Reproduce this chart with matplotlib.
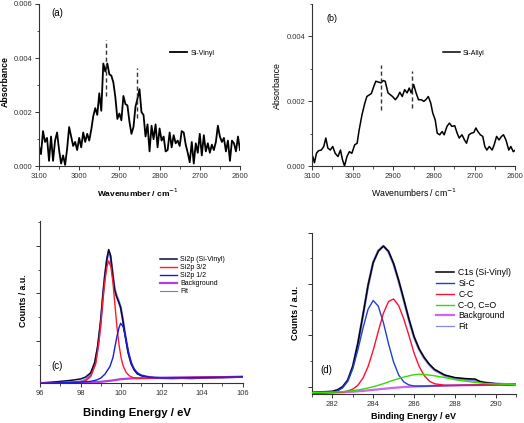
import numpy as np
import matplotlib.pyplot as plt
from matplotlib.ticker import MultipleLocator

plt.rcParams['font.family'] = ['Liberation Sans', 'DejaVu Sans']

# (a) FTIR, Si-Vinyl  (absorbance in 1e-3 units, 5 cm-1 steps from 3100 to 2600)
wn_a = np.arange(3100, 2595, -5)
abs_vinyl = [0.75, 0.45, 1.30, 0.90, 1.05, 0.20, 1.10, 0.20, 0.95, 1.25,
             0.60, 0.10, 0.40, 0.05, 0.65, 1.45, 1.10, 0.75, 0.90, 0.60,
             1.05, 0.70, 1.25, 0.90, 1.20, 0.95, 1.35, 1.85, 2.15, 1.90,
             2.70, 2.05, 3.80, 3.50, 3.80, 3.40, 3.35, 3.10, 2.55, 1.75,
             1.95, 1.70, 2.60, 2.30, 2.25, 1.65, 1.20, 1.45, 2.20, 2.50,
             2.85, 2.00, 1.90, 1.10, 1.55, 0.55, 1.50, 1.00, 1.55, 0.70,
             1.40, 0.95, 1.10, 0.55, 0.60, 1.25, 0.70, 1.15, 0.85, 0.95,
             0.75, 1.30, 1.25, 0.80, 0.50, 0.15, 0.90, 0.10, 0.85, 0.50,
             1.20, 0.40, 1.15, 0.55, 0.85, 0.50, 0.80, 0.60, 0.90, 1.50,
             1.10, 0.90, 1.05, 0.55, 0.95, 0.20, 0.95, 0.85, 0.55, 1.10,
             0.60]
peaks_a = [2933, 2857]
peaks_a_lo = [2.58, 1.78]
peaks_a_hi = [4.68, 3.63]

# (b) FTIR, Si-Allyl
wn_b = [3098, 3094, 3089, 3084, 3077, 3071, 3066, 3061, 3055, 3049,
        3043, 3036, 3030, 3025, 3020, 3014, 3008, 3002, 2995, 2989,
        2984, 2977, 2970, 2965, 2959, 2954, 2948, 2943, 2936, 2930,
        2925, 2920, 2913, 2907, 2902, 2895, 2889, 2884, 2878, 2872,
        2866, 2861, 2856, 2850, 2844, 2838, 2831, 2825, 2820, 2814,
        2808, 2803, 2797, 2792, 2786, 2780, 2775, 2768, 2762, 2756,
        2749, 2743, 2738, 2731, 2725, 2720, 2714, 2708, 2702, 2697,
        2692, 2686, 2680, 2675, 2670, 2664, 2657, 2652, 2646, 2640,
        2634, 2629, 2623, 2616, 2611, 2605, 2600]
abs_allyl = [0.30, 0.11, 0.40, 0.48, 0.50, 0.61, 0.87, 0.56, 0.50, 0.61,
             0.40, 0.30, 0.50, 0.20, 0.01, 0.30, 0.45, 0.40, 0.66, 0.71,
             1.12, 1.59, 1.95, 2.15, 2.20, 2.24, 2.46, 2.62, 2.59, 2.57,
             2.64, 2.62, 2.26, 2.20, 2.15, 2.05, 2.15, 2.28, 2.15, 2.36,
             2.26, 2.41, 2.26, 2.52, 2.26, 2.05, 2.05, 2.00, 2.05, 2.15,
             1.95, 1.64, 1.43, 1.02, 0.97, 1.07, 0.97, 1.23, 1.33, 1.23,
             1.25, 1.02, 0.87, 0.97, 0.81, 0.71, 0.97, 1.02, 1.04, 1.18,
             1.07, 0.97, 0.92, 0.61, 0.50, 0.61, 0.50, 0.66, 0.92, 0.81,
             0.92, 0.97, 0.81, 0.50, 0.61, 0.45, 0.50]
peaks_b = [2930, 2853]
peaks_b_lo = [1.74, 1.79]
peaks_b_hi = [3.13, 2.93]

# (c) XPS Si2p
si_e = [96, 96.5, 97, 97.5, 98, 98.25, 98.5, 98.7, 98.85, 99.0, 99.1, 99.2, 99.3,
        99.39, 99.48, 99.58, 99.68, 99.78, 99.88, 99.98, 100.1, 100.2, 100.35,
        100.5, 100.65, 100.8, 101.0, 101.4, 102, 102.5, 103, 103.5, 104, 104.5,
        105, 105.5, 106]
si_data = [0.115, 0.13, 0.15, 0.17, 0.20, 0.24, 0.33, 0.55, 0.90, 1.45, 1.95, 2.38,
           2.72, 2.92, 2.80, 2.42, 2.08, 1.93, 1.82, 1.70, 1.40, 1.12, 0.75, 0.52,
           0.39, 0.31, 0.27, 0.235, 0.215, 0.21, 0.215, 0.21, 0.22, 0.225, 0.23,
           0.235, 0.245]
si_fit = [0.115, 0.118, 0.12, 0.125, 0.145, 0.18, 0.28, 0.50, 0.85, 1.40, 1.92, 2.36,
          2.70, 2.88, 2.78, 2.44, 2.10, 1.95, 1.84, 1.71, 1.42, 1.14, 0.77, 0.53,
          0.40, 0.32, 0.275, 0.24, 0.225, 0.227, 0.23, 0.232, 0.235, 0.237, 0.24,
          0.242, 0.245]
si32_e = [96, 97, 98, 98.25, 98.5, 98.75, 98.9, 99.0, 99.1, 99.2, 99.3, 99.39, 99.5,
          99.6, 99.7, 99.8, 99.9, 100.0, 100.1, 100.25, 100.4, 100.6, 101, 102, 104, 106]
si32 = [0.113, 0.12, 0.13, 0.16, 0.25, 0.52, 0.95, 1.35, 1.85, 2.25, 2.55, 2.68, 2.55,
        2.22, 1.75, 1.28, 0.92, 0.65, 0.48, 0.34, 0.27, 0.225, 0.215, 0.225, 0.235, 0.245]
si12_e = [96, 97, 98, 98.5, 98.8, 99.0, 99.2, 99.45, 99.6, 99.7, 99.8, 99.9, 99.98,
          100.1, 100.2, 100.3, 100.4, 100.5, 100.6, 100.75, 100.9, 101.1, 101.4,
          101.9, 103, 104.5, 106]
si12 = [0.113, 0.12, 0.135, 0.15, 0.18, 0.22, 0.30, 0.46, 0.65, 0.88, 1.10, 1.28, 1.37,
        1.30, 1.12, 0.90, 0.70, 0.55, 0.44, 0.35, 0.30, 0.26, 0.235, 0.22, 0.225,
        0.235, 0.245]
si_bg_e = [96, 97, 98, 98.5, 99, 99.5, 100, 100.5, 101, 102, 103, 104, 105, 106]
si_bg = [0.113, 0.118, 0.125, 0.13, 0.141, 0.165, 0.197, 0.212, 0.218, 0.222, 0.226,
         0.232, 0.238, 0.246]

# (d) XPS C1s
c_e = [281, 281.5, 282, 282.25, 282.5, 282.75, 283, 283.25, 283.5, 283.75, 284,
       284.25, 284.5, 284.75, 285, 285.25, 285.5, 285.75, 286, 286.25, 286.5,
       286.75, 287, 287.5, 288, 288.25, 288.5, 288.75, 289, 289.25, 289.5, 290,
       290.25, 290.5, 291]
c_data = [0.89, 0.90, 0.91, 0.94, 1.00, 1.13, 1.40, 1.85, 2.40, 2.98, 3.42, 3.64,
          3.74, 3.64, 3.40, 3.07, 2.70, 2.32, 1.98, 1.74, 1.57, 1.44, 1.34, 1.23,
          1.18, 1.17, 1.16, 1.155, 1.15, 1.10, 1.08, 1.06, 1.05, 1.03, 1.05]
c_fit = [0.885, 0.895, 0.905, 0.935, 0.995, 1.12, 1.39, 1.84, 2.39, 2.97, 3.42, 3.65,
         3.74, 3.63, 3.39, 3.06, 2.69, 2.31, 1.97, 1.73, 1.56, 1.43, 1.33, 1.22, 1.16,
         1.15, 1.14, 1.13, 1.12, 1.10, 1.08, 1.06, 1.055, 1.05, 1.047]
sic_e = [281, 281.5, 282, 282.25, 282.5, 282.75, 283, 283.25, 283.5, 283.75, 284,
         284.25, 284.5, 284.75, 285, 285.25, 285.5, 285.75, 286, 286.5, 287, 288,
         289, 290, 291]
sic = [0.88, 0.883, 0.896, 0.92, 0.98, 1.11, 1.355, 1.72, 2.14, 2.51, 2.68, 2.57,
       2.25, 1.84, 1.48, 1.23, 1.095, 1.036, 1.016, 1.012, 1.018, 1.027, 1.033,
       1.04, 1.045]
cc_e = [281, 282, 282.5, 282.75, 283, 283.25, 283.5, 283.75, 284, 284.25, 284.5,
        284.75, 285, 285.25, 285.5, 285.75, 286, 286.25, 286.5, 286.75, 287, 287.5,
        288, 289, 290, 291]
cc = [0.88, 0.887, 0.899, 0.918, 0.954, 1.03, 1.17, 1.395, 1.71, 2.08, 2.43, 2.66,
      2.71, 2.58, 2.32, 2.00, 1.66, 1.40, 1.22, 1.11, 1.06, 1.03, 1.027, 1.033,
      1.04, 1.045]
co_e = [281, 282, 282.5, 283, 283.5, 284, 284.5, 285, 285.5, 286, 286.25, 286.5,
        287, 287.5, 288, 288.5, 289, 289.5, 290, 290.5, 291]
co = [0.885, 0.895, 0.905, 0.925, 0.955, 1.0, 1.06, 1.13, 1.19, 1.235, 1.245, 1.24,
      1.215, 1.18, 1.14, 1.11, 1.085, 1.065, 1.055, 1.05, 1.047]
c_bg_e = [281, 281.5, 282, 282.5, 283, 283.5, 284, 284.5, 285, 285.5, 286, 286.5,
          287, 288, 289, 290, 291]
c_bg = [0.88, 0.883, 0.887, 0.893, 0.905, 0.92, 0.94, 0.96, 0.98, 0.995, 1.005,
        1.012, 1.018, 1.027, 1.033, 1.04, 1.045]


def style(ax):
    for s in ['top', 'right']:
        ax.spines[s].set_visible(False)
    for s in ['left', 'bottom']:
        ax.spines[s].set_linewidth(0.8)
        ax.spines[s].set_color('#333333')
    ax.tick_params(which='major', direction='out', length=3, width=0.7,
                   labelsize=5.5, pad=2, colors='#333333')
    ax.tick_params(which='minor', direction='out', length=1.8, width=0.6,
                   colors='#333333')


fig = plt.figure(figsize=(5.24, 4.23), dpi=100)

# ---- (a)
ax = fig.add_axes([0.0744, 0.6069, 0.3836, 0.3837])
ax.plot(wn_a, np.array(abs_vinyl) * 1e-3, color='black', lw=1.3, label='Si-Vinyl')
ax.vlines(peaks_a, np.array(peaks_a_lo) * 1e-3, np.array(peaks_a_hi) * 1e-3,
          colors='#333333', linestyles=(0, (3, 2)), lw=1.0)
ax.set_xlim(3100, 2600)
ax.set_ylim(0, 0.006)
ax.xaxis.set_major_locator(MultipleLocator(100))
ax.xaxis.set_minor_locator(MultipleLocator(50))
ax.yaxis.set_major_locator(MultipleLocator(0.002))
ax.yaxis.set_minor_locator(MultipleLocator(0.001))
ax.yaxis.set_major_formatter(plt.FormatStrFormatter('%.3f'))
style(ax)
ax.set_xlabel('Wavenumber / cm$^{-1}$', fontsize=6.0, fontweight='bold')
ax.set_ylabel('Absorbance', fontsize=6.3, fontweight='bold')
ax.xaxis.set_label_coords(0.49, -0.125)
ax.yaxis.set_label_coords(-0.145, 0.52)
ax.text(0.09, 0.945, '(a)', transform=ax.transAxes, fontsize=7, va='center',
        ha='center')
ax.legend(loc='upper left', bbox_to_anchor=(0.64, 0.735), frameon=False,
          fontsize=5.0, handlelength=2.4, borderaxespad=0, handletextpad=0.5)

# ---- (b)
ax = fig.add_axes([0.5954, 0.6069, 0.388, 0.3837])
ax.plot(wn_b, np.array(abs_allyl) * 1e-3, color='black', lw=1.1, label='Si-Allyl')
ax.vlines(peaks_b, np.array(peaks_b_lo) * 1e-3, np.array(peaks_b_hi) * 1e-3,
          colors='#333333', linestyles=(0, (3, 2)), lw=1.0)
ax.set_xlim(3100, 2600)
ax.set_ylim(0, 0.005)
ax.xaxis.set_major_locator(MultipleLocator(100))
ax.xaxis.set_minor_locator(MultipleLocator(50))
ax.yaxis.set_major_locator(MultipleLocator(0.002))
ax.yaxis.set_minor_locator(MultipleLocator(0.001))
ax.yaxis.set_major_formatter(plt.FormatStrFormatter('%.3f'))
style(ax)
ax.set_xlabel('Wavenumbers / cm$^{-1}$', fontsize=6.3)
ax.set_ylabel('Absorbance', fontsize=6.3)
ax.xaxis.set_label_coords(0.5, -0.128)
ax.yaxis.set_label_coords(-0.15, 0.5)
ax.text(0.1, 0.91, '(b)', transform=ax.transAxes, fontsize=6.5, va='center',
        ha='center')
ax.legend(loc='upper left', bbox_to_anchor=(0.63, 0.735), frameon=False,
          fontsize=5.0, handlelength=2.4, borderaxespad=0, handletextpad=0.5)

# ---- (c)
ax = fig.add_axes([0.0763, 0.0939, 0.3868, 0.3837])
ax.plot(si_e, si_fit, color='#7070f0', lw=1.6, zorder=2)
ax.plot(si_e, si_data, color='#0a0a30', lw=1.1, label='Si2p (Si-Vinyl)', zorder=3)
ax.plot(si32_e, si32, color='#ff1a2a', lw=1.0, label='Si2p 3/2', zorder=4)
ax.plot(si12_e, si12, color='#1a1ae0', lw=1.0, label='Si2p 1/2', zorder=4)
ax.plot(si_bg_e, si_bg, color='#b040e0', lw=1.6, label='Background', zorder=3)
ax.plot([], [], color='#7070f0', lw=0.8, label='Fit')
ax.set_xlim(96, 106)
ax.set_ylim(0.11, 3.52)
ax.xaxis.set_major_locator(MultipleLocator(2))
ax.xaxis.set_minor_locator(MultipleLocator(1))
ax.yaxis.set_major_locator(MultipleLocator(1))
ax.yaxis.set_minor_locator(MultipleLocator(0.5))
ax.set_yticklabels([])
style(ax)
ax.set_xlabel('Binding Energy / eV', fontsize=8.2, fontweight='bold')
ax.set_ylabel('Counts / a.u.', fontsize=6.3, fontweight='bold')
ax.xaxis.set_label_coords(0.48, -0.155)
ax.yaxis.set_label_coords(-0.06, 0.51)
ax.text(0.086, 0.107, '(c)', transform=ax.transAxes, fontsize=7, va='center',
        ha='center')
ax.legend(loc='upper left', bbox_to_anchor=(0.58, 0.8), frameon=False,
          fontsize=5.0, handlelength=2.4, borderaxespad=0, handletextpad=0.5,
          labelspacing=0.15)

# ---- (d)
ax = fig.add_axes([0.5954, 0.0686, 0.3893, 0.3813])
ax.plot(c_e, c_fit, color='#8888ee', lw=1.8, zorder=2)
ax.plot(c_e, c_data, color='black', lw=1.1, label='C1s (Si-Vinyl)', zorder=3)
ax.plot(sic_e, sic, color='#2040d0', lw=1.0, label='Si-C', zorder=4)
ax.plot(cc_e, cc, color='#ff1030', lw=1.0, label='C-C', zorder=4)
ax.plot(co_e, co, color='#33dd00', lw=1.0, label='C-O, C=O', zorder=4)
ax.plot(c_bg_e, c_bg, color='#cc66ee', lw=1.6, label='Background', zorder=3)
ax.plot([], [], color='#8888ee', lw=0.9, label='Fit')
ax.set_xlim(281, 291)
ax.set_ylim(0.86, 4.0)
ax.xaxis.set_major_locator(MultipleLocator(2))
ax.xaxis.set_minor_locator(MultipleLocator(1))
ax.yaxis.set_major_locator(MultipleLocator(1))
ax.yaxis.set_minor_locator(MultipleLocator(0.5))
ax.set_yticklabels([])
style(ax)
ax.set_xlabel('Binding Energy / eV', fontsize=6.5, fontweight='bold')
ax.set_ylabel('Counts / a.u.', fontsize=6.5, fontweight='bold')
ax.xaxis.set_label_coords(0.5, -0.112)
ax.yaxis.set_label_coords(-0.06, 0.5)
ax.text(0.07, 0.147, '(d)', transform=ax.transAxes, fontsize=7, va='center',
        ha='center')
ax.legend(loc='upper left', bbox_to_anchor=(0.59, 0.8), frameon=False,
          fontsize=6.2, handlelength=2.1, borderaxespad=0, handletextpad=0.5,
          labelspacing=0.2)

fig.savefig('out.png', dpi=100)
